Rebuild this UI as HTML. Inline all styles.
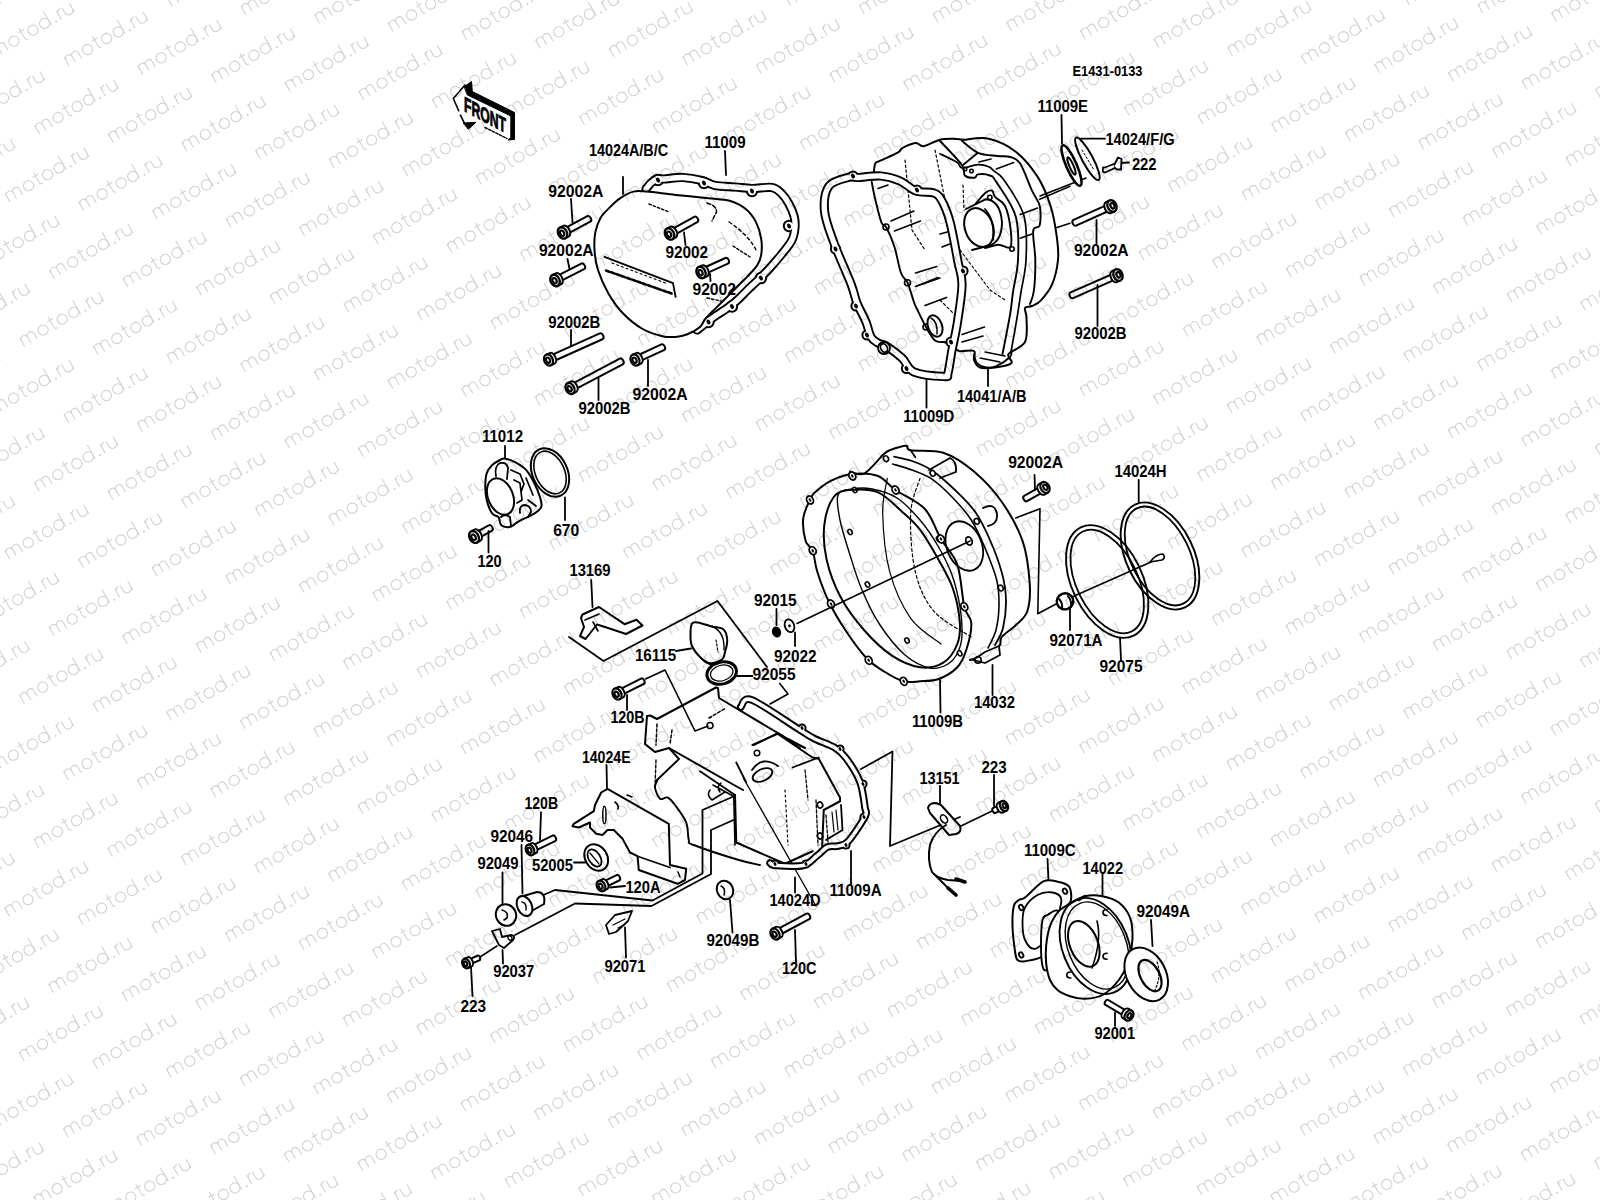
<!DOCTYPE html>
<html><head><meta charset="utf-8"><style>
html,body{margin:0;padding:0;background:#fff;width:1600px;height:1200px;overflow:hidden}
svg{display:block}
</style></head><body>
<svg width="1600" height="1200" viewBox="0 0 1600 1200">
<defs><g id="w"><g transform="rotate(-30)">
<path d="M0,0V-10.2M0,-6.5C0,-8.7 1.6,-10.2 3.65,-10.2C5.7,-10.2 7.3,-8.7 7.3,-6.5V0M7.3,-6.5C7.3,-8.7 8.9,-10.2 10.95,-10.2C13,-10.2 14.6,-8.7 14.6,-6.5V0M35,-14V-2.2Q35,0 37.5,0M32,-10.2H38.5M64.6,-16V0M76,0V-10.2M76,-6C76,-8.5 78,-10.2 80.5,-10.2M82.5,-10.2V-4C82.5,-1.5 84.4,0 86.75,0C89.1,0 91,-1.5 91,-4M91,-10.2V0"/>
<circle cx="24.2" cy="-5.1" r="5.1"/><circle cx="46.2" cy="-5.1" r="5.1"/><circle cx="59.5" cy="-5.1" r="5.1"/>
<circle cx="70.5" cy="-0.7" r="0.5"/>
</g></g></defs>
<g fill="none" stroke="#000" stroke-width="2" stroke-linecap="round" stroke-linejoin="round">
<g>
<path d="M465,85L453.3,98.5L458.7,110.7M460.4,115.2L464.4,123.2" stroke-width="1.6"/>
<path d="M464.5,86.5L471.5,81.5L472.3,91.5L514.5,112.5L514.5,139.5L508,140L510.8,137.5L510.8,116L467.5,95Z" fill="#000" stroke-width="1"/>
<path d="M485,127.5L507,138.5" stroke-width="1.4" stroke-dasharray="2.5,1.5"/>
<path d="M463.5,123L476,122.3L468.5,129Z" fill="#000" stroke-width="1"/>
<text transform="translate(464,111) skewY(28)" font-family="Liberation Sans, sans-serif" font-weight="bold" font-size="21" fill="#000" stroke="#000" stroke-width="0.9" textLength="42" lengthAdjust="spacingAndGlyphs">FRONT</text>
</g>
<path d="M646,189C646.8,188 649.2,184.7 651,183C652.8,181.3 654.8,179.7 657,179C659.2,178.3 659.7,179.2 664,179C668.3,178.8 676.7,177.2 683,177.5C689.3,177.8 696.7,179.2 702,180.5C707.3,181.8 709.5,184.4 715,185.5C720.5,186.6 728.8,186.5 735,187C741.2,187.5 745.8,188.4 752,188.5C758.2,188.6 767,186.6 772,187.5C777,188.4 779.2,191.2 782,194C784.8,196.8 787,200.3 789,204C791,207.7 793,212.2 794,216C795,219.8 795.3,223 795,227C794.7,231 794.3,235.3 792,240C789.7,244.7 785,250 781,255C777,260 772,265.7 768,270C764,274.3 760.4,277.7 757,281C753.6,284.3 750.8,286.8 747.5,290C744.2,293.2 741.1,296.8 737.5,300C733.9,303.2 729.6,306.4 726,309C722.4,311.6 719,313.4 716,315.5C713,317.6 711.2,319.1 708,321.5C704.8,323.9 698.8,328.6 697,330" stroke-width="9.2"/>
<circle cx="658" cy="180" r="6.2" fill="#000" stroke="none"/>
<circle cx="704" cy="183" r="6.2" fill="#000" stroke="none"/>
<circle cx="752" cy="191" r="6.2" fill="#000" stroke="none"/>
<circle cx="789" cy="226" r="6.2" fill="#000" stroke="none"/>
<circle cx="761" cy="278" r="6.2" fill="#000" stroke="none"/>
<circle cx="732" cy="306.5" r="6.2" fill="#000" stroke="none"/>
<circle cx="708.5" cy="322" r="6.2" fill="#000" stroke="none"/>
<path d="M646,189C646.8,188 649.2,184.7 651,183C652.8,181.3 654.8,179.7 657,179C659.2,178.3 659.7,179.2 664,179C668.3,178.8 676.7,177.2 683,177.5C689.3,177.8 696.7,179.2 702,180.5C707.3,181.8 709.5,184.4 715,185.5C720.5,186.6 728.8,186.5 735,187C741.2,187.5 745.8,188.4 752,188.5C758.2,188.6 767,186.6 772,187.5C777,188.4 779.2,191.2 782,194C784.8,196.8 787,200.3 789,204C791,207.7 793,212.2 794,216C795,219.8 795.3,223 795,227C794.7,231 794.3,235.3 792,240C789.7,244.7 785,250 781,255C777,260 772,265.7 768,270C764,274.3 760.4,277.7 757,281C753.6,284.3 750.8,286.8 747.5,290C744.2,293.2 741.1,296.8 737.5,300C733.9,303.2 729.6,306.4 726,309C722.4,311.6 719,313.4 716,315.5C713,317.6 711.2,319.1 708,321.5C704.8,323.9 698.8,328.6 697,330" stroke="#fff" stroke-width="5.4"/>
<circle cx="658" cy="180" r="4.2" fill="#fff" stroke="none"/>
<ellipse cx="658" cy="180" rx="1.8" ry="2.6" transform="rotate(-30 658 180)" fill="#000" stroke="none"/>
<circle cx="704" cy="183" r="4.2" fill="#fff" stroke="none"/>
<ellipse cx="704" cy="183" rx="1.8" ry="2.6" transform="rotate(-30 704 183)" fill="#000" stroke="none"/>
<circle cx="752" cy="191" r="4.2" fill="#fff" stroke="none"/>
<ellipse cx="752" cy="191" rx="1.8" ry="2.6" transform="rotate(-30 752 191)" fill="#000" stroke="none"/>
<circle cx="789" cy="226" r="4.2" fill="#fff" stroke="none"/>
<ellipse cx="789" cy="226" rx="1.8" ry="2.6" transform="rotate(-30 789 226)" fill="#000" stroke="none"/>
<circle cx="761" cy="278" r="4.2" fill="#fff" stroke="none"/>
<ellipse cx="761" cy="278" rx="1.8" ry="2.6" transform="rotate(-30 761 278)" fill="#000" stroke="none"/>
<circle cx="732" cy="306.5" r="4.2" fill="#fff" stroke="none"/>
<ellipse cx="732" cy="306.5" rx="1.8" ry="2.6" transform="rotate(-30 732 306.5)" fill="#000" stroke="none"/>
<circle cx="708.5" cy="322" r="4.2" fill="#fff" stroke="none"/>
<ellipse cx="708.5" cy="322" rx="1.8" ry="2.6" transform="rotate(-30 708.5 322)" fill="#000" stroke="none"/>
<path d="M620.3,198.2C624.2,195.6 629,192.7 633.4,191.6C637.8,190.5 639.6,191 646.6,191.6C653.6,192.2 665.3,193.8 675.6,194.9C685.9,196 699.5,197.2 708.5,198.2C717.5,199.2 723.5,199.1 729.6,200.8C735.8,202.6 741,205.2 745.4,208.7C749.8,212.2 753.3,216.8 755.9,221.9C758.5,227 760.3,233.5 761.2,239C762.1,244.5 761.9,250.4 761.2,254.8C760.5,259.2 759.4,261.8 757.2,265.3C755,268.8 750.9,272.8 748,275.9C745.1,279 744.4,279.4 740.1,283.8C735.8,288.2 727.7,296.3 722,302C716.3,307.7 709.7,313.8 706,318C702.3,322.2 703.1,324.3 700,327C696.9,329.7 691.5,332.7 687.4,334.3C683.3,335.9 679.8,336.6 675.6,336.9C671.4,337.2 667.9,337.5 662.4,336.2C656.9,334.9 649.3,332.8 642.7,329C636.1,325.2 628.6,319.1 622.9,313.2C617.2,307.3 612.6,300.6 608.4,293.4C604.2,286.1 600.2,276.9 597.9,269.7C595.6,262.5 594.9,256.2 594.5,250C594.1,243.8 594.3,237.8 595.3,232.4C596.3,227.1 598.1,222.1 600.5,217.9C602.9,213.7 606.5,210.7 609.8,207.4C613.1,204.1 616.4,200.8 620.3,198.2Z" fill="#fff" stroke-width="2"/>
<path d="M604.5,256.8L673,283.1L675.6,296.9" stroke-width="1.8"/>
<path d="M606,270.5L673,294" stroke-width="2.6" stroke-dasharray="3.5,2"/>
<path d="M612,263L668,284" stroke-width="1.2" stroke-dasharray="2,3"/>
<path d="M649,204L669,212" stroke-width="1.4" stroke-dasharray="2.5,2"/>
<path d="M707,203Q717,206 716.5,212L712,221" stroke-width="1.5" stroke-dasharray="4,2"/>
<path d="M729,222Q750,236 757,252" stroke-width="1.4" stroke-dasharray="3,3"/>
<path d="M733,246L750,257" stroke-width="1.4" stroke-dasharray="2.5,2"/>
<path d="M707,298L721,301" stroke-width="1.4" stroke-dasharray="2.5,2"/>
<path d="M623,177L623,194" stroke-width="1.8"/>
<g transform="translate(562.5,233) rotate(-28.1)" stroke-width="2.0"><path d="M4,-3.1H29.8A2.2,3.1 0 0 1 29.8,3.1H4" fill="#fff"/><path d="M0,-6H4A3.6,6 0 0 1 4,6H0" fill="#fff"/><ellipse cx="0" cy="0" rx="4.4" ry="6" fill="#fff" stroke-width="2.3"/><ellipse cx="-0.5" cy="0" rx="1.9" ry="2.9" stroke-width="2.2"/></g>
<g transform="translate(555,280.5) rotate(-26.9)" stroke-width="2.0"><path d="M4,-3.1H31.1A2.2,3.1 0 0 1 31.1,3.1H4" fill="#fff"/><path d="M0,-6H4A3.6,6 0 0 1 4,6H0" fill="#fff"/><ellipse cx="0" cy="0" rx="4.4" ry="6" fill="#fff" stroke-width="2.3"/><ellipse cx="-0.5" cy="0" rx="1.9" ry="2.9" stroke-width="2.2"/></g>
<g transform="translate(669.5,234) rotate(-28.9)" stroke-width="2.0"><path d="M4,-3.1H30A2.2,3.1 0 0 1 30,3.1H4" fill="#fff"/><path d="M0,-6H4A3.6,6 0 0 1 4,6H0" fill="#fff"/><ellipse cx="0" cy="0" rx="4.4" ry="6" fill="#fff" stroke-width="2.3"/><ellipse cx="-0.5" cy="0" rx="1.9" ry="2.9" stroke-width="2.2"/></g>
<g transform="translate(701,272.5) rotate(-24.5)" stroke-width="2.0"><path d="M4,-3.1H28.2A2.2,3.1 0 0 1 28.2,3.1H4" fill="#fff"/><path d="M0,-6H4A3.6,6 0 0 1 4,6H0" fill="#fff"/><ellipse cx="0" cy="0" rx="4.4" ry="6" fill="#fff" stroke-width="2.3"/><ellipse cx="-0.5" cy="0" rx="1.9" ry="2.9" stroke-width="2.2"/></g>
<g transform="translate(548.5,360) rotate(-24.2)" stroke-width="2.0"><path d="M4,-3.2H57.7A2.2,3.2 0 0 1 57.7,3.2H4" fill="#fff"/><path d="M0,-5.8H4A3.5,5.8 0 0 1 4,5.8H0" fill="#fff"/><ellipse cx="0" cy="0" rx="4.2" ry="5.8" fill="#fff" stroke-width="2.3"/><ellipse cx="-0.5" cy="0" rx="1.9" ry="2.8" stroke-width="2.2"/></g>
<g transform="translate(570,388.5) rotate(-27.8)" stroke-width="2.0"><path d="M4,-3.2H57.9A2.2,3.2 0 0 1 57.9,3.2H4" fill="#fff"/><path d="M0,-5.8H4A3.5,5.8 0 0 1 4,5.8H0" fill="#fff"/><ellipse cx="0" cy="0" rx="4.2" ry="5.8" fill="#fff" stroke-width="2.3"/><ellipse cx="-0.5" cy="0" rx="1.9" ry="2.8" stroke-width="2.2"/></g>
<g transform="translate(635,360) rotate(-24.7)" stroke-width="2.0"><path d="M4,-3.1H30.5A2.2,3.1 0 0 1 30.5,3.1H4" fill="#fff"/><path d="M0,-5.8H4A3.5,5.8 0 0 1 4,5.8H0" fill="#fff"/><ellipse cx="0" cy="0" rx="4.2" ry="5.8" fill="#fff" stroke-width="2.3"/><ellipse cx="-0.5" cy="0" rx="1.9" ry="2.8" stroke-width="2.2"/></g>
<g transform="translate(1112,206) rotate(155.8)" stroke-width="2.0"><path d="M4,-3.1H40.8A2.2,3.1 0 0 1 40.8,3.1H4" fill="#fff"/><path d="M0,-6H4A3.6,6 0 0 1 4,6H0" fill="#fff"/><ellipse cx="0" cy="0" rx="4.4" ry="6" fill="#fff" stroke-width="2.3"/><ellipse cx="-0.5" cy="0" rx="1.9" ry="2.9" stroke-width="2.2"/></g>
<g transform="translate(1118,275) rotate(156.3)" stroke-width="2.0"><path d="M4,-3.1H50.4A2.2,3.1 0 0 1 50.4,3.1H4" fill="#fff"/><path d="M0,-6H4A3.6,6 0 0 1 4,6H0" fill="#fff"/><ellipse cx="0" cy="0" rx="4.4" ry="6" fill="#fff" stroke-width="2.3"/><ellipse cx="-0.5" cy="0" rx="1.9" ry="2.9" stroke-width="2.2"/></g>
<g transform="translate(1045,487.5) rotate(150.4)" stroke-width="2.0"><path d="M4,-3H22.3A2.1,3 0 0 1 22.3,3H4" fill="#fff"/><path d="M0,-5.8H4A3.5,5.8 0 0 1 4,5.8H0" fill="#fff"/><ellipse cx="0" cy="0" rx="4.2" ry="5.8" fill="#fff" stroke-width="2.3"/><ellipse cx="-0.5" cy="0" rx="1.9" ry="2.8" stroke-width="2.2"/></g>
<g transform="translate(617,694) rotate(-26.6)" stroke-width="2.0"><path d="M4,-3H28.3A2.1,3 0 0 1 28.3,3H4" fill="#fff"/><path d="M0,-5.8H4A3.5,5.8 0 0 1 4,5.8H0" fill="#fff"/><ellipse cx="0" cy="0" rx="4.2" ry="5.8" fill="#fff" stroke-width="2.3"/><ellipse cx="-0.5" cy="0" rx="1.9" ry="2.8" stroke-width="2.2"/></g>
<g transform="translate(530,850) rotate(-26.1)" stroke-width="2.0"><path d="M4,-3H26.5A2.1,3 0 0 1 26.5,3H4" fill="#fff"/><path d="M0,-5.5H4A3.3,5.5 0 0 1 4,5.5H0" fill="#fff"/><ellipse cx="0" cy="0" rx="4" ry="5.5" fill="#fff" stroke-width="2.3"/><ellipse cx="-0.5" cy="0" rx="1.8" ry="2.7" stroke-width="2.2"/></g>
<g transform="translate(601,886) rotate(-26.0)" stroke-width="2.0"><path d="M4,-3H18.7A2.1,3 0 0 1 18.7,3H4" fill="#fff"/><path d="M0,-5.5H4A3.3,5.5 0 0 1 4,5.5H0" fill="#fff"/><ellipse cx="0" cy="0" rx="4" ry="5.5" fill="#fff" stroke-width="2.3"/><ellipse cx="-0.5" cy="0" rx="1.8" ry="2.7" stroke-width="2.2"/></g>
<g transform="translate(775,934) rotate(-28.2)" stroke-width="2.0"><path d="M4,-3H37.3A2.1,3 0 0 1 37.3,3H4" fill="#fff"/><path d="M0,-5.8H4A3.5,5.8 0 0 1 4,5.8H0" fill="#fff"/><ellipse cx="0" cy="0" rx="4.2" ry="5.8" fill="#fff" stroke-width="2.3"/><ellipse cx="-0.5" cy="0" rx="1.9" ry="2.8" stroke-width="2.2"/></g>
<g transform="translate(466,963.5) rotate(-24.1)" stroke-width="2.0"><path d="M4,-2.5H13.4A1.8,2.5 0 0 1 13.4,2.5H4" fill="#fff"/><path d="M0,-5H4A3,5 0 0 1 4,5H0" fill="#fff"/><ellipse cx="0" cy="0" rx="3.6" ry="5" fill="#fff" stroke-width="2.3"/><ellipse cx="-0.5" cy="0" rx="1.6" ry="2.4" stroke-width="2.2"/></g>
<g transform="translate(1004,806) rotate(155.4)" stroke-width="2.0"><path d="M4,-2.8H10.5A1.9,2.8 0 0 1 10.5,2.8H4" fill="#fff"/><path d="M0,-5.3H4A3.2,5.3 0 0 1 4,5.3H0" fill="#fff"/><ellipse cx="0" cy="0" rx="3.8" ry="5.3" fill="#fff" stroke-width="2.3"/><ellipse cx="-0.5" cy="0" rx="1.7" ry="2.5" stroke-width="2.2"/></g>
<g transform="translate(1129,1015.5) rotate(-149.4)" stroke-width="2.0"><path d="M4,-2.8H25.7A1.9,2.8 0 0 1 25.7,2.8H4" fill="#fff"/><path d="M0,-5.5H4A3.3,5.5 0 0 1 4,5.5H0" fill="#fff"/><ellipse cx="0" cy="0" rx="4" ry="5.5" fill="#fff" stroke-width="2.3"/><ellipse cx="-0.5" cy="0" rx="1.8" ry="2.7" stroke-width="2.2"/></g>
<g transform="translate(474,537) rotate(-28.9)" stroke-width="2.0"><path d="M4,-3.2H18.5A2.3,3.2 0 0 1 18.5,3.2H4" fill="#fff"/><path d="M0,-6.3H4A3.8,6.3 0 0 1 4,6.3H0" fill="#fff"/><ellipse cx="0" cy="0" rx="4.5" ry="6.3" fill="#fff" stroke-width="2.3"/><ellipse cx="-0.5" cy="0" rx="2" ry="3" stroke-width="2.2"/></g>
<path d="M725,151L726,175" stroke-width="1.8"/>
<path d="M571,199L572.5,222" stroke-width="1.8"/>
<path d="M567.5,259L569.5,269" stroke-width="1.8"/>
<path d="M684,232.5L685.5,245" stroke-width="1.8"/>
<path d="M710,274L710.5,281" stroke-width="1.8"/>
<path d="M571,330L571,346" stroke-width="1.8"/>
<path d="M598.5,378L598.5,400" stroke-width="1.8"/>
<path d="M648,360L648,386" stroke-width="1.8"/>
<path d="M1061.5,115L1062,143.5" stroke-width="1.8"/>
<path d="M1081,138.7L1105,138.7" stroke-width="1.8"/>
<path d="M1120,163L1129,162.5" stroke-width="1.8"/>
<path d="M1096.5,220L1096.5,245" stroke-width="1.8"/>
<path d="M1097.5,285L1097.5,326" stroke-width="1.8"/>
<path d="M926.5,376L926.5,407.5" stroke-width="1.8"/>
<path d="M988,367.5L988,386" stroke-width="1.8"/>
<path d="M505,446L505,460" stroke-width="1.8"/>
<path d="M565,497.5L565,520" stroke-width="1.8"/>
<path d="M488.5,531L488.5,552.5" stroke-width="1.8"/>
<path d="M591.2,580L592.5,607" stroke-width="1.8"/>
<path d="M1034.5,475L1035,490" stroke-width="1.8"/>
<path d="M1138.7,480L1138.7,502.5" stroke-width="1.8"/>
<path d="M776.5,609L776.5,625" stroke-width="1.8"/>
<path d="M795,632.5L795,646" stroke-width="1.8"/>
<path d="M676,651L691,648.5" stroke-width="1.8"/>
<path d="M736,676L752.5,676" stroke-width="1.8"/>
<path d="M627,695L627,710" stroke-width="1.8"/>
<path d="M606.5,765L607,788.5" stroke-width="1.8"/>
<path d="M541,812.5L540,840" stroke-width="1.8"/>
<path d="M521.5,845L522.5,893.5" stroke-width="1.8"/>
<path d="M502.5,872.5L502.5,905" stroke-width="1.8"/>
<path d="M574,862.5L585,862.5" stroke-width="1.8"/>
<path d="M610,887.5L625,886" stroke-width="1.8"/>
<path d="M795,877.5L795,892.5" stroke-width="1.8"/>
<path d="M502.5,950L503,963.5" stroke-width="1.8"/>
<path d="M625,927.5L626,957.5" stroke-width="1.8"/>
<path d="M730,900L732.5,932.5" stroke-width="1.8"/>
<path d="M795,930L796,962.5" stroke-width="1.8"/>
<path d="M471,967L472.5,996" stroke-width="1.8"/>
<path d="M1070,607.5L1070,630" stroke-width="1.8"/>
<path d="M1120,637.5L1121,660" stroke-width="1.8"/>
<path d="M992.5,665L992.5,695" stroke-width="1.8"/>
<path d="M940,680L940.5,712.5" stroke-width="1.8"/>
<path d="M994,775L994,806" stroke-width="1.8"/>
<path d="M940,786L940,803.5" stroke-width="1.8"/>
<path d="M1047.5,859L1048.5,881" stroke-width="1.8"/>
<path d="M851,851L851,885" stroke-width="1.8"/>
<path d="M1102.5,874L1102.5,896" stroke-width="1.8"/>
<path d="M1151,920L1152.5,946" stroke-width="1.8"/>
<path d="M1115,1012.5L1115,1026" stroke-width="1.8"/>
<path d="M963.8,139.8C968,139.6 980.1,136.7 988.8,138.7C997.5,140.7 1007.7,145.4 1015.8,151.7C1023.9,158 1031.7,167.6 1037.5,176.6C1043.3,185.6 1047.2,195.5 1050.5,205.8C1053.8,216.1 1055.8,229.3 1057,238.3C1058.2,247.3 1058.8,252.3 1058,260C1057.2,267.7 1055,277.6 1052.1,284.4C1049.2,291.2 1044,297 1040.7,300.6C1037.4,304.2 1034.6,304.8 1032,306C1029.4,307.2 1025.9,306 1025,308C1024.1,310 1026.5,312.3 1026.5,318C1026.5,323.7 1028,336 1025,342C1022,348 1010.8,350.5 1008.5,354C1006.2,357.5 1013.8,360.8 1011.5,363C1009.2,365.2 1000.2,366.8 995,367.5C989.8,368.2 983.5,368.8 980,367.5C976.5,366.2 975,362.8 974,360C973,357.2 976.5,352.5 974,351C971.5,349.5 962.7,352 959,351C955.3,350 954.5,346.5 952,345C949.5,343.5 945.3,342.5 944,342" stroke-width="2"/>
<path d="M873.4,180C873.7,177.3 873.9,167.3 875,164.1C876.1,160.9 876.1,162.8 879.9,160.9C883.7,159 893.9,154.9 897.7,152.7C901.5,150.5 899.6,149.5 902.6,147.9C905.6,146.3 912.1,143.3 915.6,143C919.1,142.7 919.6,146.8 923.7,146.2C927.8,145.6 934.6,140.9 940,139.7C945.4,138.5 952.2,138.9 956.2,138.9C960.2,138.9 962.5,139.6 963.8,139.8" stroke-width="2"/>
<path d="M961.7,140.8C964.4,142.8 972,150.2 977.9,152.8C983.8,155.3 992,155.3 997.4,156C1002.8,156.7 1006.6,155.7 1010.4,157C1014.2,158.3 1016.6,158 1020.2,163.6C1023.8,169.2 1028.8,183.7 1032,190.7C1035.2,197.7 1038.4,200 1039.7,205.8C1041,211.6 1040.8,221.1 1039.7,225.3C1038.6,229.5 1033.9,225 1033.2,230.8C1032.5,236.6 1035.2,250.1 1035.3,260C1035.4,269.9 1034.9,282.7 1034,290C1033.1,297.3 1030.7,301.7 1030,304" stroke-width="1.9"/>
<path d="M977.9,152.75L963,165" stroke-width="1.8"/>
<path d="M940,141C943.6,144.9 957.6,158.9 961.7,164.7C965.9,170.4 962.7,173.3 964.9,175.5C967.1,177.7 972.5,177.9 974.7,177.7C976.9,177.5 975.4,174.8 977.9,174.4C980.4,174 986.7,174.2 989.8,175.5C992.9,176.8 992,175.1 996.3,182C1000.6,188.9 1012.2,203.7 1015.8,216.7C1019.4,229.7 1018.5,247.4 1018,260C1017.5,272.6 1014.3,282.8 1013,292C1011.7,301.2 1011.8,304.7 1010,315C1008.2,325.3 1003.8,347.5 1002.5,354" stroke-width="1.9"/>
<path d="M940,153.8C942.9,155.2 953.6,160.1 957.3,162.5C961,164.9 958.6,167.6 962,168C965.4,168.4 973.4,164.9 977.9,164.7C982.4,164.5 986.1,165.7 988.8,166.8C991.5,167.9 991.7,169 994.2,171.2C996.7,173.4 999,172.5 1004,180C1009,187.5 1020.3,202.7 1024,216C1027.7,229.3 1026.5,247.3 1026,260C1025.5,272.7 1022.5,282.3 1021,292C1019.5,301.7 1018.7,308 1017,318C1015.3,328 1012,346.3 1011,352" stroke-width="1.7"/>
<circle cx="965" cy="169" r="1.8" stroke-width="1.5"/><circle cx="971.5" cy="171" r="1.8" stroke-width="1.5"/>
<path d="M871.7,182C872.2,184.7 873.4,191.4 875,198.2C876.6,205 879.6,217.7 881.5,222.6C883.4,227.5 884.2,223.4 886.4,227.5C888.6,231.6 892.1,239.4 894.5,247C896.9,254.6 898.8,267.1 901,273C903.2,278.9 905.3,277.8 907.5,282.7C909.7,287.6 912.4,297.8 914,302.2C915.6,306.6 915,304.9 917,309C919,313.1 923,321.8 926,327C929,332.2 932,338 935,340.5C938,343 942.5,341.8 944,342" stroke-width="1.9"/>
<circle cx="886" cy="227" r="3" stroke-width="1.6"/>
<circle cx="907.5" cy="282.7" r="3" stroke-width="1.6"/>
<circle cx="926" cy="327" r="3" stroke-width="1.6"/>
<path d="M891,221L914,211M894.5,231L920.5,221M915.5,273L936.7,266.5M917,286L940,278M925,305.5L946.5,297.4M878,188.5L888,185M962,334.5L984.5,327M962,342L983,336M915.5,286.5L938,277.5M979,162L991,159M996.3,169L1013.7,162.5M1020.2,214.5L1037.5,208M1020.2,238.3L1032,234M1039.7,199.3L1070,186.3M1057,227.5L1070,223.2M940,234L951,231M942,247L955,242" stroke-width="1.6"/>
<path d="M905,160L912,230L925,250M935,150L945,200L950,230M960,250L990,290L1005,300M940,300L960,320M963,185L964,210" stroke-width="1.2" stroke-dasharray="2.5,2.5"/>
<ellipse cx="935" cy="326" rx="7" ry="11" transform="rotate(-20 935 326)" fill="#fff" stroke-width="2"/>
<path d="M931,318Q938,322 937,334" stroke-width="1.5"/>
<path d="M975.7,203.7C977.3,201.9 982.8,195 985.5,192.8C988.2,190.6 990.4,190 992,190.7C993.6,191.4 993.1,194.7 995.3,197.2C997.5,199.7 1002.5,200.8 1005,205.8C1007.5,210.9 1009.5,220.6 1010.4,227.5C1011.3,234.4 1012.4,244.1 1010.4,247C1008.4,249.9 1002.7,244.6 998.5,244.8C994.3,245 987.2,247.5 985,248" stroke-width="1.9"/>
<circle cx="989.8" cy="197.5" r="2.2" stroke-width="1.6"/><circle cx="1012" cy="249" r="2.2" stroke-width="1.6"/>
<path d="M966,209L985.5,199.3Q1000,200 1002,222Q1002,240 991,245L972,250" fill="#fff" stroke-width="1.9"/>
<ellipse cx="979" cy="227.5" rx="14" ry="20" transform="rotate(-20 979 227.5)" fill="#fff" stroke-width="2"/>
<path d="M985,209Q995,220 993,240" stroke-width="1.8"/>
<path d="M974,354C974.5,355.5 975,360.8 977,363C979,365.2 982.8,367 986,367.5C989.2,368 992.5,367.8 996.5,366C1000.5,364.2 1007.5,359.5 1010,357C1012.5,354.5 1011.2,352 1011.5,351" stroke-width="1.8"/>
<path d="M980,358L1000,362M985,352L1005,356" stroke-width="1.3"/>
<path d="M829,186C833.2,180.3 845.2,178.4 850,177C854.8,175.6 852.8,177.7 858,177.5C863.2,177.3 874,175.4 881,176C888,176.6 894.2,178.5 900,181C905.8,183.5 910.3,189 916,191C921.7,193 929.7,191.3 934,193C938.3,194.7 939.3,196.2 942,201C944.7,205.8 947.3,211.8 950,222C952.7,232.2 956,251.5 958,262C960,272.5 962.2,274.5 962,285C961.8,295.5 958.7,314.2 957,325C955.3,335.8 953.5,342 952,350C950.5,358 949.3,368.6 948,373C946.7,377.4 949.7,376.7 944,376.5C938.3,376.3 921,375.1 914,372C907,368.9 906.7,362.3 902,358C897.3,353.7 890,348.5 886,346C882,343.5 880.5,344.5 878,343C875.5,341.5 873,340.5 871,337C869,333.5 868.3,327.7 866,322C863.7,316.3 859.5,309.3 857,303C854.5,296.7 854.8,294 851,284C847.2,274 838.4,255.2 834,243C829.6,230.8 825.3,220.5 824.5,211C823.7,201.5 824.8,191.7 829,186Z" stroke-width="9.2"/>
<circle cx="853" cy="176" r="5.6" fill="#000" stroke="none"/>
<circle cx="917" cy="190" r="5.6" fill="#000" stroke="none"/>
<circle cx="963" cy="271" r="5.6" fill="#000" stroke="none"/>
<circle cx="835.5" cy="249" r="5.6" fill="#000" stroke="none"/>
<circle cx="856" cy="306" r="5.6" fill="#000" stroke="none"/>
<circle cx="867" cy="335" r="5.6" fill="#000" stroke="none"/>
<circle cx="906.5" cy="368.5" r="5.6" fill="#000" stroke="none"/>
<circle cx="951" cy="342" r="5.6" fill="#000" stroke="none"/>
<path d="M829,186C833.2,180.3 845.2,178.4 850,177C854.8,175.6 852.8,177.7 858,177.5C863.2,177.3 874,175.4 881,176C888,176.6 894.2,178.5 900,181C905.8,183.5 910.3,189 916,191C921.7,193 929.7,191.3 934,193C938.3,194.7 939.3,196.2 942,201C944.7,205.8 947.3,211.8 950,222C952.7,232.2 956,251.5 958,262C960,272.5 962.2,274.5 962,285C961.8,295.5 958.7,314.2 957,325C955.3,335.8 953.5,342 952,350C950.5,358 949.3,368.6 948,373C946.7,377.4 949.7,376.7 944,376.5C938.3,376.3 921,375.1 914,372C907,368.9 906.7,362.3 902,358C897.3,353.7 890,348.5 886,346C882,343.5 880.5,344.5 878,343C875.5,341.5 873,340.5 871,337C869,333.5 868.3,327.7 866,322C863.7,316.3 859.5,309.3 857,303C854.5,296.7 854.8,294 851,284C847.2,274 838.4,255.2 834,243C829.6,230.8 825.3,220.5 824.5,211C823.7,201.5 824.8,191.7 829,186Z" stroke="#fff" stroke-width="5.4"/>
<circle cx="853" cy="176" r="3.5999999999999996" fill="#fff" stroke="none"/>
<ellipse cx="853" cy="176" rx="1.8" ry="2.6" transform="rotate(-30 853 176)" fill="#000" stroke="none"/>
<circle cx="917" cy="190" r="3.5999999999999996" fill="#fff" stroke="none"/>
<ellipse cx="917" cy="190" rx="1.8" ry="2.6" transform="rotate(-30 917 190)" fill="#000" stroke="none"/>
<circle cx="963" cy="271" r="3.5999999999999996" fill="#fff" stroke="none"/>
<ellipse cx="963" cy="271" rx="1.8" ry="2.6" transform="rotate(-30 963 271)" fill="#000" stroke="none"/>
<circle cx="835.5" cy="249" r="3.5999999999999996" fill="#fff" stroke="none"/>
<ellipse cx="835.5" cy="249" rx="1.8" ry="2.6" transform="rotate(-30 835.5 249)" fill="#000" stroke="none"/>
<circle cx="856" cy="306" r="3.5999999999999996" fill="#fff" stroke="none"/>
<ellipse cx="856" cy="306" rx="1.8" ry="2.6" transform="rotate(-30 856 306)" fill="#000" stroke="none"/>
<circle cx="867" cy="335" r="3.5999999999999996" fill="#fff" stroke="none"/>
<ellipse cx="867" cy="335" rx="1.8" ry="2.6" transform="rotate(-30 867 335)" fill="#000" stroke="none"/>
<circle cx="906.5" cy="368.5" r="3.5999999999999996" fill="#fff" stroke="none"/>
<ellipse cx="906.5" cy="368.5" rx="1.8" ry="2.6" transform="rotate(-30 906.5 368.5)" fill="#000" stroke="none"/>
<circle cx="951" cy="342" r="3.5999999999999996" fill="#fff" stroke="none"/>
<ellipse cx="951" cy="342" rx="1.8" ry="2.6" transform="rotate(-30 951 342)" fill="#000" stroke="none"/>
<circle cx="884" cy="348" r="6" fill="#fff" stroke-width="1.8"/>
<ellipse cx="884" cy="348" rx="3.2" ry="4.5" transform="rotate(-30 884 348)" stroke-width="1.8"/>
<path d="M1040,196L1086,178" stroke-width="1.6"/>
<ellipse cx="1071.5" cy="165.5" rx="22" ry="5.2" transform="rotate(66.4 1071.5 165.5)" fill="#fff" stroke-width="2.6"/>
<ellipse cx="1071.5" cy="166" rx="9.5" ry="2" transform="rotate(66.4 1071.5 166)" stroke-width="2"/>
<ellipse cx="1087.4" cy="158.8" rx="24" ry="5.3" transform="rotate(61.8 1087.4 158.8)" fill="#fff" stroke-width="2"/>
<path d="M1082,150L1094,170" stroke-width="1" stroke-dasharray="2,2"/>
<path d="M1103,168Q1102,172.5 1105,172.5L1115,168L1115,163.5L1105,167.5Q1103,167 1103,168Z" fill="#fff" stroke-width="1.8"/>
<path d="M1114.5,164.5L1118,157.5L1121.5,159L1121,169.5L1117,169.5L1115,168" fill="#fff" stroke-width="1.8"/>
<path d="M882.7,455C883.9,454.2 885.8,451.9 889.7,450.3C893.6,448.8 902.5,445.7 906,445.7C909.5,445.7 904.5,449.1 910.7,450.3C916.9,451.5 932.8,449.2 943.3,452.7C953.8,456.2 964,463.1 973.7,471.3C983.4,479.5 993.5,490 1001.7,501.7C1009.9,513.4 1018,527.7 1022.7,541.3C1027.4,554.9 1028.9,571.6 1029.7,583.3C1030.5,595 1029.6,604.3 1027.3,611.3C1025,618.3 1020,621 1015.7,625.3C1011.4,629.6 1004.4,633.5 1001.7,637C999,640.5 1002.1,643 999.3,646C996.5,649 989.9,652.7 985,655C980.1,657.3 972.5,659.2 970,660" stroke-width="2"/>
<path d="M850,471.3C852.3,471.7 858.5,476.4 864,473.7C869.5,471 879.6,458.1 882.7,455" stroke-width="1.8"/>
<path d="M910.7,450.3L915.3,457.3" stroke-width="1.8"/>
<path d="M929,470L950,458Q957,461 956,472L940,478" fill="#fff" stroke-width="1.8"/>
<path d="M983,508Q995,502 997,514Q998,524 988,526" stroke-width="1.8"/>
<path d="M887.3,478.3C886.5,484.1 882.3,497.7 882.7,513.3C883.1,528.9 885,554.2 889.7,571.7C894.4,589.2 902.2,606.2 910.7,618.3C919.2,630.3 936,639.7 941,644" stroke-width="1.2"/>
<path d="M920,478.3C918.5,484.1 911.5,497.7 910.7,513.3C909.9,528.9 911.4,555.4 915.3,571.7C919.2,588 924.7,600.4 934,611.3C943.3,622.2 965.1,632.7 971.3,637" stroke-width="1.2" stroke-dasharray="3,2.5"/>
<path d="M894,456.7C897,457.4 905.8,458.8 912,461C918.2,463.2 924.1,465.2 931.3,470C938.5,474.8 947.7,483 955,490C962.3,497 969.5,503.7 975.3,512C981.1,520.3 985.5,529.8 990,540C994.5,550.2 999.3,563.3 1002,573.3C1004.7,583.3 1005.8,590.9 1006,600C1006.2,609.1 1004.8,620.5 1003,628C1001.2,635.5 996.3,642.2 995,645" stroke-width="1.8"/>
<path d="M892.7,464C895.9,465 905.6,467.6 912,470C918.4,472.4 924.6,474.2 931.3,478.7C938,483.2 945.3,490.1 952,497C958.7,503.9 965.8,511.5 971.3,520C976.8,528.5 980.8,538 985,548C989.2,558 994.4,570.5 996.7,580C999,589.5 999.1,596.7 999,605C998.9,613.3 997.8,622.8 996,630C994.2,637.2 989.3,645 988,648" stroke-width="1.6"/>
<ellipse cx="886" cy="458.7" rx="2.4" ry="3" transform="rotate(-30 886 458.7)" fill="#fff" stroke-width="1.6"/>
<ellipse cx="932.7" cy="473.3" rx="2.4" ry="3" transform="rotate(-30 932.7 473.3)" fill="#fff" stroke-width="1.6"/>
<ellipse cx="976.7" cy="521.3" rx="2.4" ry="3" transform="rotate(-30 976.7 521.3)" fill="#fff" stroke-width="1.6"/>
<ellipse cx="1000.7" cy="588" rx="2.4" ry="3" transform="rotate(-30 1000.7 588)" fill="#fff" stroke-width="1.6"/>
<ellipse cx="964.3" cy="546" rx="17.5" ry="25.7" transform="rotate(-22 964.3 546)" fill="#fff" stroke-width="1.8"/>
<ellipse cx="969" cy="541" rx="3" ry="4.2" transform="rotate(-22 969 541)" stroke-width="1.8"/>
<path d="M973,660L985,652L999,646L1000,655L985,663Z" fill="#fff" stroke-width="1.8"/>
<circle cx="978" cy="660" r="3.2" stroke-width="1.6"/>
<path d="M838,495C840,489.8 846.3,490 852,489C857.7,488 864.5,487.5 872,489C879.5,490.5 889,492.8 897,498C905,503.2 913.2,512 920,520C926.8,528 932.7,536.8 938,546C943.3,555.2 948.3,564.8 952,575C955.7,585.2 958.3,597 960,607C961.7,617 962.3,627.5 962,635C961.7,642.5 960.3,647.2 958,652C955.7,656.8 952.7,661.3 948,664C943.3,666.7 937.2,669.5 930,668C922.8,666.5 913.3,662.2 905,655C896.7,647.8 887.2,635.8 880,625C872.8,614.2 867,601.7 862,590C857,578.3 853.7,566.7 850,555C846.3,543.3 842,530 840,520C838,510 836,500.2 838,495Z" stroke-width="1.4"/>
<ellipse cx="850" cy="532" rx="2" ry="2.8" transform="rotate(-30 850 532)" stroke-width="1.6" fill="#fff"/>
<ellipse cx="867.5" cy="584.5" rx="2" ry="2.8" transform="rotate(-30 867.5 584.5)" stroke-width="1.6" fill="#fff"/>
<ellipse cx="907" cy="640.5" rx="2" ry="2.8" transform="rotate(-30 907 640.5)" stroke-width="1.6" fill="#fff"/>
<ellipse cx="959.7" cy="653.3" rx="2" ry="2.8" transform="rotate(-30 959.7 653.3)" stroke-width="1.6" fill="#fff"/>
<ellipse cx="938.7" cy="539" rx="2" ry="2.8" transform="rotate(-30 938.7 539)" stroke-width="1.6" fill="#fff"/>
<ellipse cx="896.7" cy="490" rx="2" ry="2.8" transform="rotate(-30 896.7 490)" stroke-width="1.6" fill="#fff"/>
<ellipse cx="854.7" cy="490" rx="2" ry="2.8" transform="rotate(-30 854.7 490)" stroke-width="1.6" fill="#fff"/>
<path d="M810.3,499.3C808.3,503.6 804.1,511 803.3,518C802.5,525 804.1,535.8 805.7,541.3C807.3,546.8 810.8,545.6 812.7,550.7C814.6,555.8 814.6,563.2 817.3,571.7C820,580.2 824.3,592.3 829,602C833.7,611.7 839.1,620.7 845.3,630C851.5,639.3 859.7,651 866.3,658C872.9,665 878.8,668.1 885,672C891.2,675.9 897.9,679.8 903.7,681.3C909.5,682.8 914.2,681.7 920,681.3C925.8,680.9 932.5,681.3 938.7,679C944.9,676.7 952.6,672.3 957.3,667.3C962,662.2 964.4,656.1 966.7,648.7C969,641.3 971.7,630 971.3,623C970.9,616 966.6,616.4 964.3,606.7C962,597 961.2,576 957.3,564.7C953.4,553.4 946.4,548.3 941,539C935.6,529.7 932.3,516.9 924.7,508.7C917.1,500.5 903.3,495.4 895.5,490C887.7,484.6 885.2,478.7 878,476C870.8,473.3 860.1,473.2 852.3,474C844.5,474.8 837.5,477.6 831.3,480.7C825.1,483.8 818.5,489.2 815,492.3C811.5,495.4 812.2,495 810.3,499.3Z" stroke-width="2"/>
<path d="M833.7,497C838,491.2 842.6,490.8 850,490C857.4,489.2 869.5,488.8 878,492.3C886.5,495.8 894.3,504.8 901.3,511C908.3,517.2 913.8,521.5 920,529.7C926.2,537.9 933.2,550.3 938.7,560C944.2,569.7 949.2,577.9 952.7,588C956.2,598.1 958.9,611.4 959.7,620.7C960.5,630 960,637 957.3,644C954.6,651 949.5,658.8 943.3,662.7C937.1,666.6 928.5,668.5 920,667.3C911.5,666.1 901.3,661.9 892,655.7C882.7,649.5 872.5,639.7 864,630C855.5,620.3 846.9,609 840.7,597.3C834.5,585.6 829.4,572 826.7,560C824,548 823.1,535.5 824.3,525C825.5,514.5 829.4,502.8 833.7,497Z" stroke-width="2"/>
<ellipse cx="810" cy="500" rx="3.2" ry="4.2" transform="rotate(-30 810 500)" fill="#fff" stroke-width="1.8"/>
<ellipse cx="810" cy="500" rx="1.1" ry="1.8" transform="rotate(-30 810 500)" fill="#000" stroke="none"/>
<ellipse cx="812.7" cy="550.7" rx="3.2" ry="4.2" transform="rotate(-30 812.7 550.7)" fill="#fff" stroke-width="1.8"/>
<ellipse cx="812.7" cy="550.7" rx="1.1" ry="1.8" transform="rotate(-30 812.7 550.7)" fill="#000" stroke="none"/>
<ellipse cx="831" cy="604" rx="3.2" ry="4.2" transform="rotate(-30 831 604)" fill="#fff" stroke-width="1.8"/>
<ellipse cx="831" cy="604" rx="1.1" ry="1.8" transform="rotate(-30 831 604)" fill="#000" stroke="none"/>
<ellipse cx="868.7" cy="660.3" rx="3.2" ry="4.2" transform="rotate(-30 868.7 660.3)" fill="#fff" stroke-width="1.8"/>
<ellipse cx="868.7" cy="660.3" rx="1.1" ry="1.8" transform="rotate(-30 868.7 660.3)" fill="#000" stroke="none"/>
<ellipse cx="903.7" cy="681.3" rx="3.2" ry="4.2" transform="rotate(-30 903.7 681.3)" fill="#fff" stroke-width="1.8"/>
<ellipse cx="903.7" cy="681.3" rx="1.1" ry="1.8" transform="rotate(-30 903.7 681.3)" fill="#000" stroke="none"/>
<ellipse cx="964.3" cy="606.7" rx="3.2" ry="4.2" transform="rotate(-30 964.3 606.7)" fill="#fff" stroke-width="1.8"/>
<ellipse cx="964.3" cy="606.7" rx="1.1" ry="1.8" transform="rotate(-30 964.3 606.7)" fill="#000" stroke="none"/>
<ellipse cx="941" cy="539" rx="3.2" ry="4.2" transform="rotate(-30 941 539)" fill="#fff" stroke-width="1.8"/>
<ellipse cx="941" cy="539" rx="1.1" ry="1.8" transform="rotate(-30 941 539)" fill="#000" stroke="none"/>
<ellipse cx="895.5" cy="490" rx="3.2" ry="4.2" transform="rotate(-30 895.5 490)" fill="#fff" stroke-width="1.8"/>
<ellipse cx="895.5" cy="490" rx="1.1" ry="1.8" transform="rotate(-30 895.5 490)" fill="#000" stroke="none"/>
<ellipse cx="852.3" cy="476" rx="3.2" ry="4.2" transform="rotate(-30 852.3 476)" fill="#fff" stroke-width="1.8"/>
<ellipse cx="852.3" cy="476" rx="1.1" ry="1.8" transform="rotate(-30 852.3 476)" fill="#000" stroke="none"/>
<path d="M797,623.5L970,541" stroke-width="1.6"/>
<path d="M1015.7,518L1040,508.7L1037.8,613.7L1056,604" stroke-width="1.6"/>
<ellipse cx="1160" cy="556" rx="33.7" ry="57.2" transform="rotate(-26 1160 556)" stroke-width="1.9"/>
<ellipse cx="1160" cy="556" rx="29.5" ry="53" transform="rotate(-26 1160 556)" stroke-width="1.8"/>
<ellipse cx="1107.2" cy="581.5" rx="35.2" ry="60.2" transform="rotate(-26 1107.2 581.5)" stroke-width="1.9"/>
<ellipse cx="1107.2" cy="581.5" rx="30.6" ry="55.6" transform="rotate(-26 1107.2 581.5)" stroke-width="1.8"/>
<path d="M1072,597L1151,562" stroke-width="1.6"/>
<path d="M1150,562Q1156,554 1163,554Q1166,558 1162,560Z" fill="#fff" stroke-width="1.6"/>
<ellipse cx="1065" cy="601.3" rx="8.3" ry="8" transform="rotate(-20 1065 601.3)" fill="#fff" stroke-width="2.4"/>
<path d="M1059,599Q1063,603 1062,609M1068,596Q1072,601 1071,607" stroke-width="2"/>
<ellipse cx="776.5" cy="632" rx="3.8" ry="4.8" transform="rotate(-20 776.5 632)" fill="#000" stroke-width="1.5"/>
<ellipse cx="789.5" cy="625.8" rx="4.6" ry="6.6" transform="rotate(-20 789.5 625.8)" fill="#fff" stroke-width="1.8"/>
<ellipse cx="789.5" cy="625.8" rx="1.3" ry="1.6" fill="#000" stroke="none"/>
<path d="M541,896L555,890L652.5,900.5L702.5,873.5L702.5,810L733.5,796.5" stroke-width="1.8"/>
<path d="M515,935L575,903.5L651.5,906L711,874L711,830L733.5,820" stroke-width="1.8"/>
<path d="M657.5,780C657.1,781.2 654.6,784.4 655,787.5C655.4,790.6 657.9,797.1 660,798.8C662.1,800.4 665,796.5 667.5,797.5C670,798.5 671.9,800.8 675,805C678.1,809.2 684,816.7 686.2,822.5C688.5,828.3 687.5,836.2 688.8,840C690,843.8 685.4,841.7 693.8,845C702.1,848.3 727.7,856.7 738.8,860C749.8,863.3 756.5,864.2 760,865" stroke-width="1.9"/>
<path d="M733.75,796L735,845" stroke-width="1.6"/>
<path d="M713,785L733,796M710,790Q706,795 712,800L725,792M721,783Q716,787 720,792" stroke-width="1.6"/>
<path d="M647,716L650,715.5L657,719L716,687.5L718,688L719,698L788,739L805,748" stroke-width="2"/>
<path d="M647,716L645,744L655,752L669,748L734,785L743,790" stroke-width="2"/>
<path d="M669,748L679,759L657,780" stroke-width="1.9"/>
<path d="M656,760L655,787" stroke-width="1.4" stroke-dasharray="3,2"/>
<path d="M657,724L656,745M672,730L670,744M709,718L726,708" stroke-width="1.5" stroke-dasharray="3,2"/>
<path d="M645.5,679L665,670L695,731L708,726" stroke-width="1.6"/>
<circle cx="710" cy="725.5" r="3" stroke-width="1.5"/>
<path d="M779.75,683.5L788,694L770,704" stroke-width="1.6"/>
<path d="M754,745L778,733L800,748" stroke-width="1.8"/>
<circle cx="757" cy="753" r="2.8" stroke-width="1.5"/>
<path d="M752.5,745L777.5,733.75L812.5,757.5L818.75,758.75L840,797.5L840,801.25L823.75,810L822,850" stroke-width="2"/>
<path d="M792.5,767.5L818.75,757.5" stroke-width="1.8"/>
<path d="M736.25,762.5L746.25,782.5" stroke-width="1.8"/>
<path d="M735,795L736.25,842.5L785,863.75L812.5,851.25" stroke-width="2"/>
<path d="M700,771.25L735,795" stroke-width="1.9"/>
<path d="M743.75,778.75L816,906" stroke-width="1.3"/>
<ellipse cx="762.5" cy="775" rx="10.5" ry="5.8" transform="rotate(-25 762.5 775)" stroke-width="1.9"/>
<path d="M752,770Q762,755 778,766" stroke-width="1.8"/>
<path d="M805,770L808,800M816,800L818,845M826,815L828,842" stroke-width="1.3" stroke-dasharray="3,2"/>
<path d="M841,805L842.5,830L826,840" stroke-width="1.8"/>
<ellipse cx="820" cy="805" rx="2.6" ry="3" transform="rotate(-30 820 805)" stroke-width="1.7"/>
<ellipse cx="820" cy="836" rx="2.6" ry="3" transform="rotate(-30 820 836)" stroke-width="1.7"/>
<path d="M832,812L834,832M836,810L838,830" stroke-width="1.2"/>
<path d="M785,790L788,845" stroke-width="1.2" stroke-dasharray="2,3"/>
<path d="M740.8,707C742.6,705.8 742.4,696.3 752,700C761.6,703.7 788.2,722.6 798.5,729C808.8,735.4 808,735.4 814,738.5C820,741.6 829.2,744.3 834.5,747.5C839.8,750.7 841.5,752.1 845.8,757.8C850,763.4 856.5,773.2 859.8,781.5C863,789.8 864.1,801.9 865,807.8C865.9,813.6 867.8,811 865,816.5C862.2,822 853,836.1 848.5,841C844,845.9 841.5,845 838,846C834.5,847 831,845.4 827.5,847C824,848.6 821.1,852.7 817,855.8C812.9,858.8 809.9,863.9 803,865.5C796.1,867.1 781.2,865.9 775.8,865.5C770.2,865.1 771,863.4 770,863" stroke-width="7.6"/>
<circle cx="802" cy="728" r="4.6" fill="#000" stroke="none"/>
<circle cx="840" cy="749" r="4.6" fill="#000" stroke="none"/>
<circle cx="863" cy="784" r="4.6" fill="#000" stroke="none"/>
<circle cx="864" cy="817" r="4.6" fill="#000" stroke="none"/>
<circle cx="846" cy="845" r="4.6" fill="#000" stroke="none"/>
<circle cx="806" cy="864" r="4.6" fill="#000" stroke="none"/>
<circle cx="775" cy="864" r="4.6" fill="#000" stroke="none"/>
<path d="M740.8,707C742.6,705.8 742.4,696.3 752,700C761.6,703.7 788.2,722.6 798.5,729C808.8,735.4 808,735.4 814,738.5C820,741.6 829.2,744.3 834.5,747.5C839.8,750.7 841.5,752.1 845.8,757.8C850,763.4 856.5,773.2 859.8,781.5C863,789.8 864.1,801.9 865,807.8C865.9,813.6 867.8,811 865,816.5C862.2,822 853,836.1 848.5,841C844,845.9 841.5,845 838,846C834.5,847 831,845.4 827.5,847C824,848.6 821.1,852.7 817,855.8C812.9,858.8 809.9,863.9 803,865.5C796.1,867.1 781.2,865.9 775.8,865.5C770.2,865.1 771,863.4 770,863" stroke="#fff" stroke-width="3.6"/>
<circle cx="802" cy="728" r="2.5999999999999996" fill="#fff" stroke="none"/>
<ellipse cx="802" cy="728" rx="1.3" ry="2" transform="rotate(-30 802 728)" fill="#000" stroke="none"/>
<circle cx="840" cy="749" r="2.5999999999999996" fill="#fff" stroke="none"/>
<ellipse cx="840" cy="749" rx="1.3" ry="2" transform="rotate(-30 840 749)" fill="#000" stroke="none"/>
<circle cx="863" cy="784" r="2.5999999999999996" fill="#fff" stroke="none"/>
<ellipse cx="863" cy="784" rx="1.3" ry="2" transform="rotate(-30 863 784)" fill="#000" stroke="none"/>
<circle cx="864" cy="817" r="2.5999999999999996" fill="#fff" stroke="none"/>
<ellipse cx="864" cy="817" rx="1.3" ry="2" transform="rotate(-30 864 817)" fill="#000" stroke="none"/>
<circle cx="846" cy="845" r="2.5999999999999996" fill="#fff" stroke="none"/>
<ellipse cx="846" cy="845" rx="1.3" ry="2" transform="rotate(-30 846 845)" fill="#000" stroke="none"/>
<circle cx="806" cy="864" r="2.5999999999999996" fill="#fff" stroke="none"/>
<ellipse cx="806" cy="864" rx="1.3" ry="2" transform="rotate(-30 806 864)" fill="#000" stroke="none"/>
<circle cx="775" cy="864" r="2.5999999999999996" fill="#fff" stroke="none"/>
<ellipse cx="775" cy="864" rx="1.3" ry="2" transform="rotate(-30 775 864)" fill="#000" stroke="none"/>
<path d="M861,769L892.5,751.5L890,846L960,817" stroke-width="1.8"/>
<path d="M702.5,810L702.5,873.5M711,830L711,874" stroke-width="0"/>
<path d="M607.5,788.8 601.2,792.5 595,805 593.8,811.2 573.8,823.8 572.5,826.2 578.8,827.5 590,822.5 590,827.5 596.2,833.8 602.5,835 607.5,830 613.8,830 622.5,838.8 630,852.5 637.5,856.2 638.8,870 677.5,883.8 685,880 686.2,868.8 670,865 668.8,823.8Z" fill="#fff" stroke-width="2" stroke-linejoin="round"/>
<path d="M637.5,856.25L670,867.5" stroke-width="1.8"/>
<ellipse cx="604.4" cy="815" rx="1.6" ry="8.8" stroke-width="1.5"/>
<path d="M615,802Q619,805 618,809M627,795L632,797" stroke-width="1.6"/>
<path d="M678,872L680,877" stroke-width="1.4"/>
<ellipse cx="596.2" cy="857.5" rx="11" ry="14" transform="rotate(-32 596.2 857.5)" fill="#fff" stroke-width="2"/>
<ellipse cx="594.5" cy="858" rx="5.8" ry="9.5" transform="rotate(-32 594.5 858)" stroke-width="1.8"/>
<path d="M590,853L599,864" stroke-width="1.2"/>
<ellipse cx="725" cy="890" rx="8" ry="9.5" transform="rotate(-25 725 890)" fill="#fff" stroke-width="2"/>
<path d="M721,886Q726,888 724,895" stroke-width="1.5"/>
<path d="M606,925L615,915L632,911L628,921L616,932L609,934Z" fill="#fff" stroke-width="1.8"/>
<path d="M613,925L625,919M618,928L624,925" stroke-width="1.2"/>
<path d="M520,897L537,892Q546,892 544,904L528,913" fill="#fff" stroke-width="2"/>
<ellipse cx="524.5" cy="906" rx="7.2" ry="10.5" transform="rotate(-25 524.5 906)" fill="#fff" stroke-width="2"/>
<path d="M522,902Q527,903 526,910" stroke-width="1.4"/>
<ellipse cx="506" cy="915" rx="10" ry="11" transform="rotate(-25 506 915)" fill="#fff" stroke-width="2"/>
<path d="M502,910Q509,912 507,918L504,920" stroke-width="1.6"/>
<path d="M492,931L500,929L502,937L511,935Q516,936 513,940L504,948L499,945Z" fill="#fff" stroke-width="1.8"/>
<ellipse cx="510" cy="938" rx="1.8" ry="2.4" transform="rotate(-30 510 938)" stroke-width="1.4"/>
<path d="M480,957L497,946" stroke-width="1.5"/>
<path d="M486.7,473.3C487.8,469.7 489.8,467.5 492,465.3C494.2,463.1 497.8,461.1 500,460C502.2,458.9 502.6,458.2 505.3,458.7C508,459.1 512.4,460.7 516,462.7C519.6,464.7 523.6,467.1 526.7,470.7C529.8,474.2 532.5,479.6 534.7,484C536.9,488.4 538.9,493.5 540,497.3C541.1,501.1 542.2,504 541.3,506.7C540.4,509.4 538.5,510.9 534.7,513.3C530.9,515.7 522.7,519.1 518.7,521.3C514.7,523.5 513.6,526 510.7,526.7C507.8,527.4 503.3,526.9 501.3,525.3C499.3,523.7 500.2,519.3 498.7,517.3C497.1,515.3 494,516.2 492,513.3C490,510.4 487.8,504.4 486.7,500C485.6,495.6 485.3,491.1 485.3,486.7C485.3,482.2 485.6,476.9 486.7,473.3Z" fill="#fff" stroke-width="2"/>
<ellipse cx="500.5" cy="496.5" rx="12.5" ry="19" transform="rotate(-22 500.5 496.5)" fill="#fff" stroke-width="2"/>
<path d="M496,476Q494,466 500,463Q507,462 508,468L507,479" stroke-width="1.8"/>
<path d="M520,513Q519,505 525,505Q531,506 531,512L528,517" stroke-width="1.8"/>
<path d="M501,517Q505,513 510,517L511,526" stroke-width="1.8"/>
<path d="M511,470L520,474L524,484L521,492M514,480L520,483L522,500L517,503M526,478L533,495M528,500L536,506" stroke-width="1.7"/>
<ellipse cx="550" cy="472.5" rx="17.5" ry="25.5" transform="rotate(-25 550 472.5)" stroke-width="2"/>
<ellipse cx="550" cy="472.5" rx="14.5" ry="22.5" transform="rotate(-25 550 472.5)" stroke-width="1.6"/>
<path d="M928,808Q929,803 936,803L941,805L960,826Q962,832 956,834L949,835L930,813Z" fill="#fff" stroke-width="2"/>
<ellipse cx="944" cy="819" rx="3" ry="4.5" transform="rotate(-35 944 819)" stroke-width="1.6"/>
<path d="M961,826L992,811" stroke-width="1.6"/>
<path d="M946,825Q934,832 930,845Q927,860 932,872Q936,878 948,880L962,881" stroke-width="2"/>
<path d="M934,874L950,890" stroke-width="2"/>
<path d="M956,879L965,882M948,888L956,895" stroke-width="3.6"/>
<path d="M1013.8,906.2C1014.8,901.9 1016.9,901.5 1018.8,900C1020.6,898.5 1020.8,900.6 1025,897.5C1029.2,894.4 1038.1,883.9 1043.8,881.2C1049.4,878.6 1054.6,881.1 1058.8,881.9C1062.9,882.7 1066.7,884.1 1068.8,886.2C1070.8,888.4 1071,892.3 1071.2,895C1071.5,897.7 1071.5,899.7 1070,902.5C1068.5,905.3 1064,906.6 1062,912C1060,917.4 1060.8,927.8 1058,935C1055.2,942.2 1050.5,950.6 1045,955C1039.5,959.4 1029.6,960.4 1025,961.2C1020.4,962.1 1019.2,961.7 1017.5,960C1015.8,958.3 1015.8,956.9 1015,951.2C1014.2,945.6 1012.7,933.8 1012.5,926.2C1012.3,918.8 1012.7,910.6 1013.8,906.2Z" fill="#fff" stroke-width="2"/>
<path d="M1022.5,922.5C1022.5,917.1 1022.5,912.1 1025,907.5C1027.5,902.9 1032.9,897.5 1037.5,895C1042.1,892.5 1048.5,891.9 1052.5,892.5C1056.5,893.1 1060.3,895 1061.2,898.8C1062.2,902.5 1059.9,909 1058,915C1056.1,921 1053.8,929.4 1050,935C1046.2,940.6 1039.2,947.9 1035,948.8C1030.8,949.6 1027.1,944.4 1025,940C1022.9,935.6 1022.5,927.9 1022.5,922.5Z" stroke-width="1.8"/>
<ellipse cx="1021.2" cy="907.5" rx="2" ry="2.8" transform="rotate(-30 1021.2 907.5)" stroke-width="1.8"/>
<ellipse cx="1065" cy="891.2" rx="2" ry="2.8" transform="rotate(-30 1065 891.2)" stroke-width="1.8"/>
<ellipse cx="1021.2" cy="955" rx="2" ry="2.8" transform="rotate(-30 1021.2 955)" stroke-width="1.8"/>
<path d="M1042.5,920C1043.6,915 1044.9,916.5 1047.5,915C1050.1,913.5 1055.6,908.5 1058,911C1060.4,913.5 1062,921.8 1062,930C1062,938.2 1060.5,953.3 1058,960C1055.5,966.7 1049.6,969 1047,970C1044.4,971 1043.5,970.2 1042.5,966C1041.5,961.8 1041,952.7 1041,945C1041,937.3 1041.4,925 1042.5,920Z" fill="#fff" stroke-width="1.9"/>
<path d="M1070,903.8C1074.4,901.2 1079.6,897.5 1085,896.2C1090.4,895 1096.9,895.2 1102.5,896.2C1108.1,897.3 1114.2,899 1118.8,902.5C1123.3,906 1127.7,911.5 1130,917.5C1132.3,923.5 1132.7,931.7 1132.5,938.8C1132.3,945.8 1131,953.1 1128.8,960C1126.5,966.9 1123.1,974.2 1118.8,980C1114.4,985.8 1108.1,991.9 1102.5,995C1096.9,998.1 1090.4,998.5 1085,998.8C1079.6,999 1074.6,997.7 1070,996.2C1065.4,994.8 1060.8,992.7 1057.5,990C1054.2,987.3 1051.9,984.4 1050,980C1048.1,975.6 1046.9,969.6 1046.2,963.8C1045.6,957.9 1045.6,951.2 1046.2,945C1046.9,938.8 1047.9,931.9 1050,926.2C1052.1,920.6 1055.4,915 1058.8,911.2C1062.1,907.5 1065.6,906.2 1070,903.8Z" fill="#fff" stroke-width="2"/>
<ellipse cx="1095.5" cy="946" rx="33" ry="50" transform="rotate(-22 1095.5 946)" stroke-width="1.9"/>
<ellipse cx="1097" cy="945.5" rx="29" ry="45.5" transform="rotate(-22 1097 945.5)" stroke-width="1.4"/>
<ellipse cx="1083.8" cy="943.8" rx="14" ry="24" transform="rotate(-22 1083.8 943.8)" fill="#fff" stroke-width="2"/>
<path d="M1097,921Q1102,940 1092,968" stroke-width="1.6"/>
<path d="M1079,900L1085,896" stroke-width="2.5"/>
<path d="M1107,909.5Q1103,909.5 1103,912.5Q1103,915.5 1107,915.5" stroke-width="1.7"/>
<path d="M1107,953.25Q1103,953.25 1103,956.25Q1103,959.25 1107,959.25" stroke-width="1.7"/>
<path d="M1070.75,972Q1066.75,972 1066.75,975Q1066.75,978 1070.75,978" stroke-width="1.7"/>
<ellipse cx="1146.2" cy="974.4" rx="19.5" ry="28.5" transform="rotate(-28 1146.2 974.4)" fill="#fff" stroke-width="2"/>
<ellipse cx="1150" cy="975.6" rx="9.5" ry="17" transform="rotate(-28 1150 975.6)" stroke-width="2.2"/>
<path d="M1157,962Q1162,975 1155,990" stroke-width="1.2" stroke-dasharray="2,2"/>
<path d="M569,637L603.5,661L717.5,601L767,667" stroke-width="1.8"/>
<path d="M582.5,614.5 599,607 624.5,624.2 636.5,619.8 642.5,625.5 626,634 605,627 597,624.5 591,632 585.5,639 580,636 584,627 581,618Z" fill="#fff" stroke-width="2"/>
<path d="M585,620L599,614M593,622L598,631" stroke-width="1.6"/>
<path d="M692,623.5C693.2,621.6 694.8,622 698,622.5C701.2,623 707.2,625.3 711.5,626.5C715.8,627.7 720.9,627.2 723.5,629.5C726.1,631.8 727,636.2 727.2,640C727.5,643.8 725.9,648.8 725,652C724.1,655.2 724.5,657.6 722,659.5C719.5,661.4 713.5,663.5 710,663.2C706.5,663 704,660.9 701,658C698,655.1 693.8,650 692,646C690.2,642 690.5,637.8 690.5,634C690.5,630.2 690.8,625.4 692,623.5Z" fill="#fff" stroke-width="2"/>
<path d="M712,626Q725,632 724,650" stroke-width="1.4"/>
<path d="M703,660Q712,668 721,662" stroke-width="1.8"/>
<path d="M716,640L718,652" stroke-width="1.2" stroke-dasharray="2,2"/>
<ellipse cx="721.7" cy="673" rx="15" ry="11" transform="rotate(-15 721.7 673)" stroke-width="3"/>
<ellipse cx="721.7" cy="673" rx="11.5" ry="7.8" transform="rotate(-15 721.7 673)" stroke-width="1.2"/>
</g>
<g font-family="Liberation Sans, sans-serif" font-weight="bold" font-size="16" fill="#000">
<text x="588.90" y="155.60" textLength="79.20" lengthAdjust="spacingAndGlyphs">14024A/B/C</text>
<text x="704.40" y="148.10" textLength="41.20" lengthAdjust="spacingAndGlyphs">11009</text>
<text x="548.15" y="196.60" textLength="55.20" lengthAdjust="spacingAndGlyphs">92002A</text>
<text x="538.90" y="255.60" textLength="54.70" lengthAdjust="spacingAndGlyphs">92002A</text>
<text x="665.40" y="258.10" textLength="42.70" lengthAdjust="spacingAndGlyphs">92002</text>
<text x="692.40" y="294.60" textLength="43.70" lengthAdjust="spacingAndGlyphs">92002</text>
<text x="548.15" y="327.60" textLength="52.20" lengthAdjust="spacingAndGlyphs">92002B</text>
<text x="578.40" y="414.35" textLength="52.20" lengthAdjust="spacingAndGlyphs">92002B</text>
<text x="632.40" y="400.10" textLength="55.20" lengthAdjust="spacingAndGlyphs">92002A</text>
<text x="1037.40" y="111.60" textLength="50.70" lengthAdjust="spacingAndGlyphs">11009E</text>
<text x="1105.40" y="144.60" textLength="69.20" lengthAdjust="spacingAndGlyphs">14024/F/G</text>
<text x="1131.90" y="169.60" textLength="24.70" lengthAdjust="spacingAndGlyphs">222</text>
<text x="1073.90" y="255.60" textLength="54.70" lengthAdjust="spacingAndGlyphs">92002A</text>
<text x="1074.40" y="339.35" textLength="52.20" lengthAdjust="spacingAndGlyphs">92002B</text>
<text x="903.15" y="421.60" textLength="51.20" lengthAdjust="spacingAndGlyphs">11009D</text>
<text x="956.90" y="401.60" textLength="69.70" lengthAdjust="spacingAndGlyphs">14041/A/B</text>
<text x="481.90" y="441.60" textLength="41.20" lengthAdjust="spacingAndGlyphs">11012</text>
<text x="553.15" y="535.60" textLength="26.20" lengthAdjust="spacingAndGlyphs">670</text>
<text x="477.40" y="566.60" textLength="24.20" lengthAdjust="spacingAndGlyphs">120</text>
<text x="1008.15" y="468.10" textLength="54.95" lengthAdjust="spacingAndGlyphs">92002A</text>
<text x="1114.40" y="476.60" textLength="52.20" lengthAdjust="spacingAndGlyphs">14024H</text>
<text x="569.40" y="575.60" textLength="41.20" lengthAdjust="spacingAndGlyphs">13169</text>
<text x="753.90" y="605.60" textLength="42.70" lengthAdjust="spacingAndGlyphs">92015</text>
<text x="773.90" y="661.60" textLength="42.70" lengthAdjust="spacingAndGlyphs">92022</text>
<text x="634.90" y="660.60" textLength="41.20" lengthAdjust="spacingAndGlyphs">16115</text>
<text x="752.40" y="680.10" textLength="43.20" lengthAdjust="spacingAndGlyphs">92055</text>
<text x="610.40" y="722.60" textLength="34.20" lengthAdjust="spacingAndGlyphs">120B</text>
<text x="581.90" y="763.10" textLength="48.70" lengthAdjust="spacingAndGlyphs">14024E</text>
<text x="524.40" y="809.35" textLength="33.70" lengthAdjust="spacingAndGlyphs">120B</text>
<text x="490.40" y="841.60" textLength="42.70" lengthAdjust="spacingAndGlyphs">92046</text>
<text x="477.40" y="869.35" textLength="41.20" lengthAdjust="spacingAndGlyphs">92049</text>
<text x="531.90" y="870.60" textLength="41.20" lengthAdjust="spacingAndGlyphs">52005</text>
<text x="625.40" y="893.10" textLength="35.20" lengthAdjust="spacingAndGlyphs">120A</text>
<text x="769.40" y="905.60" textLength="51.20" lengthAdjust="spacingAndGlyphs">14024D</text>
<text x="493.15" y="976.60" textLength="41.20" lengthAdjust="spacingAndGlyphs">92037</text>
<text x="604.40" y="971.60" textLength="41.20" lengthAdjust="spacingAndGlyphs">92071</text>
<text x="706.40" y="945.60" textLength="52.95" lengthAdjust="spacingAndGlyphs">92049B</text>
<text x="781.90" y="974.35" textLength="34.70" lengthAdjust="spacingAndGlyphs">120C</text>
<text x="460.40" y="1011.60" textLength="25.70" lengthAdjust="spacingAndGlyphs">223</text>
<text x="1049.40" y="646.10" textLength="53.20" lengthAdjust="spacingAndGlyphs">92071A</text>
<text x="1099.40" y="671.60" textLength="43.20" lengthAdjust="spacingAndGlyphs">92075</text>
<text x="973.90" y="708.10" textLength="41.20" lengthAdjust="spacingAndGlyphs">14032</text>
<text x="911.90" y="726.60" textLength="51.20" lengthAdjust="spacingAndGlyphs">11009B</text>
<text x="981.40" y="773.10" textLength="25.20" lengthAdjust="spacingAndGlyphs">223</text>
<text x="919.40" y="784.35" textLength="40.20" lengthAdjust="spacingAndGlyphs">13151</text>
<text x="1023.90" y="855.60" textLength="51.70" lengthAdjust="spacingAndGlyphs">11009C</text>
<text x="829.40" y="895.60" textLength="52.20" lengthAdjust="spacingAndGlyphs">11009A</text>
<text x="1082.40" y="874.35" textLength="40.70" lengthAdjust="spacingAndGlyphs">14022</text>
<text x="1136.40" y="916.60" textLength="53.70" lengthAdjust="spacingAndGlyphs">92049A</text>
<text x="1094.40" y="1039.35" textLength="40.70" lengthAdjust="spacingAndGlyphs">92001</text>
<text x="1072.5" y="75.8" textLength="70" lengthAdjust="spacingAndGlyphs" font-size="15.5">E1431-0133</text>
</g>
<g fill="none" stroke="#d2d2d2" stroke-width="1.1" style="mix-blend-mode:multiply"><use href="#w" x="-78.06" y="49.20"/>
<use href="#w" x="-4.44" y="57.60"/>
<use href="#w" x="-33.95" y="125.65"/>
<use href="#w" x="-63.46" y="193.70"/>
<use href="#w" x="-92.97" y="261.75"/>
<use href="#w" x="98.69" y="-2.05"/>
<use href="#w" x="69.18" y="66.00"/>
<use href="#w" x="39.67" y="134.05"/>
<use href="#w" x="10.16" y="202.10"/>
<use href="#w" x="-19.35" y="270.15"/>
<use href="#w" x="-48.86" y="338.20"/>
<use href="#w" x="-78.37" y="406.25"/>
<use href="#w" x="172.31" y="6.35"/>
<use href="#w" x="142.80" y="74.40"/>
<use href="#w" x="113.29" y="142.45"/>
<use href="#w" x="83.78" y="210.50"/>
<use href="#w" x="54.27" y="278.55"/>
<use href="#w" x="24.76" y="346.60"/>
<use href="#w" x="-4.75" y="414.65"/>
<use href="#w" x="-34.26" y="482.70"/>
<use href="#w" x="-63.77" y="550.75"/>
<use href="#w" x="-93.28" y="618.80"/>
<use href="#w" x="245.93" y="14.75"/>
<use href="#w" x="216.42" y="82.80"/>
<use href="#w" x="186.91" y="150.85"/>
<use href="#w" x="157.40" y="218.90"/>
<use href="#w" x="127.89" y="286.95"/>
<use href="#w" x="98.38" y="355.00"/>
<use href="#w" x="68.87" y="423.05"/>
<use href="#w" x="39.36" y="491.10"/>
<use href="#w" x="9.85" y="559.15"/>
<use href="#w" x="-19.66" y="627.20"/>
<use href="#w" x="-49.17" y="695.25"/>
<use href="#w" x="-78.68" y="763.30"/>
<use href="#w" x="319.55" y="23.15"/>
<use href="#w" x="290.04" y="91.20"/>
<use href="#w" x="260.53" y="159.25"/>
<use href="#w" x="231.02" y="227.30"/>
<use href="#w" x="201.51" y="295.35"/>
<use href="#w" x="172.00" y="363.40"/>
<use href="#w" x="142.49" y="431.45"/>
<use href="#w" x="112.98" y="499.50"/>
<use href="#w" x="83.47" y="567.55"/>
<use href="#w" x="53.96" y="635.60"/>
<use href="#w" x="24.45" y="703.65"/>
<use href="#w" x="-5.06" y="771.70"/>
<use href="#w" x="-34.57" y="839.75"/>
<use href="#w" x="-64.08" y="907.80"/>
<use href="#w" x="-93.59" y="975.85"/>
<use href="#w" x="393.17" y="31.55"/>
<use href="#w" x="363.66" y="99.60"/>
<use href="#w" x="334.15" y="167.65"/>
<use href="#w" x="304.64" y="235.70"/>
<use href="#w" x="275.13" y="303.75"/>
<use href="#w" x="245.62" y="371.80"/>
<use href="#w" x="216.11" y="439.85"/>
<use href="#w" x="186.60" y="507.90"/>
<use href="#w" x="157.09" y="575.95"/>
<use href="#w" x="127.58" y="644.00"/>
<use href="#w" x="98.07" y="712.05"/>
<use href="#w" x="68.56" y="780.10"/>
<use href="#w" x="39.05" y="848.15"/>
<use href="#w" x="9.54" y="916.20"/>
<use href="#w" x="-19.97" y="984.25"/>
<use href="#w" x="-49.48" y="1052.30"/>
<use href="#w" x="-78.99" y="1120.35"/>
<use href="#w" x="466.79" y="39.95"/>
<use href="#w" x="437.28" y="108.00"/>
<use href="#w" x="407.77" y="176.05"/>
<use href="#w" x="378.26" y="244.10"/>
<use href="#w" x="348.75" y="312.15"/>
<use href="#w" x="319.24" y="380.20"/>
<use href="#w" x="289.73" y="448.25"/>
<use href="#w" x="260.22" y="516.30"/>
<use href="#w" x="230.71" y="584.35"/>
<use href="#w" x="201.20" y="652.40"/>
<use href="#w" x="171.69" y="720.45"/>
<use href="#w" x="142.18" y="788.50"/>
<use href="#w" x="112.67" y="856.55"/>
<use href="#w" x="83.16" y="924.60"/>
<use href="#w" x="53.65" y="992.65"/>
<use href="#w" x="24.14" y="1060.70"/>
<use href="#w" x="-5.37" y="1128.75"/>
<use href="#w" x="-34.88" y="1196.80"/>
<use href="#w" x="540.41" y="48.35"/>
<use href="#w" x="510.90" y="116.40"/>
<use href="#w" x="481.39" y="184.45"/>
<use href="#w" x="451.88" y="252.50"/>
<use href="#w" x="422.37" y="320.55"/>
<use href="#w" x="392.86" y="388.60"/>
<use href="#w" x="363.35" y="456.65"/>
<use href="#w" x="333.84" y="524.70"/>
<use href="#w" x="304.33" y="592.75"/>
<use href="#w" x="274.82" y="660.80"/>
<use href="#w" x="245.31" y="728.85"/>
<use href="#w" x="215.80" y="796.90"/>
<use href="#w" x="186.29" y="864.95"/>
<use href="#w" x="156.78" y="933.00"/>
<use href="#w" x="127.27" y="1001.05"/>
<use href="#w" x="97.76" y="1069.10"/>
<use href="#w" x="68.25" y="1137.15"/>
<use href="#w" x="38.74" y="1205.20"/>
<use href="#w" x="614.03" y="56.75"/>
<use href="#w" x="584.52" y="124.80"/>
<use href="#w" x="555.01" y="192.85"/>
<use href="#w" x="525.50" y="260.90"/>
<use href="#w" x="495.99" y="328.95"/>
<use href="#w" x="466.48" y="397.00"/>
<use href="#w" x="436.97" y="465.05"/>
<use href="#w" x="407.46" y="533.10"/>
<use href="#w" x="377.95" y="601.15"/>
<use href="#w" x="348.44" y="669.20"/>
<use href="#w" x="318.93" y="737.25"/>
<use href="#w" x="289.42" y="805.30"/>
<use href="#w" x="259.91" y="873.35"/>
<use href="#w" x="230.40" y="941.40"/>
<use href="#w" x="200.89" y="1009.45"/>
<use href="#w" x="171.38" y="1077.50"/>
<use href="#w" x="141.87" y="1145.55"/>
<use href="#w" x="112.36" y="1213.60"/>
<use href="#w" x="717.16" y="-2.90"/>
<use href="#w" x="687.65" y="65.15"/>
<use href="#w" x="658.14" y="133.20"/>
<use href="#w" x="628.63" y="201.25"/>
<use href="#w" x="599.12" y="269.30"/>
<use href="#w" x="569.61" y="337.35"/>
<use href="#w" x="540.10" y="405.40"/>
<use href="#w" x="510.59" y="473.45"/>
<use href="#w" x="481.08" y="541.50"/>
<use href="#w" x="451.57" y="609.55"/>
<use href="#w" x="422.06" y="677.60"/>
<use href="#w" x="392.55" y="745.65"/>
<use href="#w" x="363.04" y="813.70"/>
<use href="#w" x="333.53" y="881.75"/>
<use href="#w" x="304.02" y="949.80"/>
<use href="#w" x="274.51" y="1017.85"/>
<use href="#w" x="245.00" y="1085.90"/>
<use href="#w" x="215.49" y="1153.95"/>
<use href="#w" x="185.98" y="1222.00"/>
<use href="#w" x="790.78" y="5.50"/>
<use href="#w" x="761.27" y="73.55"/>
<use href="#w" x="731.76" y="141.60"/>
<use href="#w" x="702.25" y="209.65"/>
<use href="#w" x="672.74" y="277.70"/>
<use href="#w" x="643.23" y="345.75"/>
<use href="#w" x="613.72" y="413.80"/>
<use href="#w" x="584.21" y="481.85"/>
<use href="#w" x="554.70" y="549.90"/>
<use href="#w" x="525.19" y="617.95"/>
<use href="#w" x="495.68" y="686.00"/>
<use href="#w" x="466.17" y="754.05"/>
<use href="#w" x="436.66" y="822.10"/>
<use href="#w" x="407.15" y="890.15"/>
<use href="#w" x="377.64" y="958.20"/>
<use href="#w" x="348.13" y="1026.25"/>
<use href="#w" x="318.62" y="1094.30"/>
<use href="#w" x="289.11" y="1162.35"/>
<use href="#w" x="259.60" y="1230.40"/>
<use href="#w" x="864.40" y="13.90"/>
<use href="#w" x="834.89" y="81.95"/>
<use href="#w" x="805.38" y="150.00"/>
<use href="#w" x="775.87" y="218.05"/>
<use href="#w" x="746.36" y="286.10"/>
<use href="#w" x="716.85" y="354.15"/>
<use href="#w" x="687.34" y="422.20"/>
<use href="#w" x="657.83" y="490.25"/>
<use href="#w" x="628.32" y="558.30"/>
<use href="#w" x="598.81" y="626.35"/>
<use href="#w" x="569.30" y="694.40"/>
<use href="#w" x="539.79" y="762.45"/>
<use href="#w" x="510.28" y="830.50"/>
<use href="#w" x="480.77" y="898.55"/>
<use href="#w" x="451.26" y="966.60"/>
<use href="#w" x="421.75" y="1034.65"/>
<use href="#w" x="392.24" y="1102.70"/>
<use href="#w" x="362.73" y="1170.75"/>
<use href="#w" x="333.22" y="1238.80"/>
<use href="#w" x="938.02" y="22.30"/>
<use href="#w" x="908.51" y="90.35"/>
<use href="#w" x="879.00" y="158.40"/>
<use href="#w" x="849.49" y="226.45"/>
<use href="#w" x="819.98" y="294.50"/>
<use href="#w" x="790.47" y="362.55"/>
<use href="#w" x="760.96" y="430.60"/>
<use href="#w" x="731.45" y="498.65"/>
<use href="#w" x="701.94" y="566.70"/>
<use href="#w" x="672.43" y="634.75"/>
<use href="#w" x="642.92" y="702.80"/>
<use href="#w" x="613.41" y="770.85"/>
<use href="#w" x="583.90" y="838.90"/>
<use href="#w" x="554.39" y="906.95"/>
<use href="#w" x="524.88" y="975.00"/>
<use href="#w" x="495.37" y="1043.05"/>
<use href="#w" x="465.86" y="1111.10"/>
<use href="#w" x="436.35" y="1179.15"/>
<use href="#w" x="406.84" y="1247.20"/>
<use href="#w" x="1011.64" y="30.70"/>
<use href="#w" x="982.13" y="98.75"/>
<use href="#w" x="952.62" y="166.80"/>
<use href="#w" x="923.11" y="234.85"/>
<use href="#w" x="893.60" y="302.90"/>
<use href="#w" x="864.09" y="370.95"/>
<use href="#w" x="834.58" y="439.00"/>
<use href="#w" x="805.07" y="507.05"/>
<use href="#w" x="775.56" y="575.10"/>
<use href="#w" x="746.05" y="643.15"/>
<use href="#w" x="716.54" y="711.20"/>
<use href="#w" x="687.03" y="779.25"/>
<use href="#w" x="657.52" y="847.30"/>
<use href="#w" x="628.01" y="915.35"/>
<use href="#w" x="598.50" y="983.40"/>
<use href="#w" x="568.99" y="1051.45"/>
<use href="#w" x="539.48" y="1119.50"/>
<use href="#w" x="509.97" y="1187.55"/>
<use href="#w" x="480.46" y="1255.60"/>
<use href="#w" x="1085.26" y="39.10"/>
<use href="#w" x="1055.75" y="107.15"/>
<use href="#w" x="1026.24" y="175.20"/>
<use href="#w" x="996.73" y="243.25"/>
<use href="#w" x="967.22" y="311.30"/>
<use href="#w" x="937.71" y="379.35"/>
<use href="#w" x="908.20" y="447.40"/>
<use href="#w" x="878.69" y="515.45"/>
<use href="#w" x="849.18" y="583.50"/>
<use href="#w" x="819.67" y="651.55"/>
<use href="#w" x="790.16" y="719.60"/>
<use href="#w" x="760.65" y="787.65"/>
<use href="#w" x="731.14" y="855.70"/>
<use href="#w" x="701.63" y="923.75"/>
<use href="#w" x="672.12" y="991.80"/>
<use href="#w" x="642.61" y="1059.85"/>
<use href="#w" x="613.10" y="1127.90"/>
<use href="#w" x="583.59" y="1195.95"/>
<use href="#w" x="1158.88" y="47.50"/>
<use href="#w" x="1129.37" y="115.55"/>
<use href="#w" x="1099.86" y="183.60"/>
<use href="#w" x="1070.35" y="251.65"/>
<use href="#w" x="1040.84" y="319.70"/>
<use href="#w" x="1011.33" y="387.75"/>
<use href="#w" x="981.82" y="455.80"/>
<use href="#w" x="952.31" y="523.85"/>
<use href="#w" x="922.80" y="591.90"/>
<use href="#w" x="893.29" y="659.95"/>
<use href="#w" x="863.78" y="728.00"/>
<use href="#w" x="834.27" y="796.05"/>
<use href="#w" x="804.76" y="864.10"/>
<use href="#w" x="775.25" y="932.15"/>
<use href="#w" x="745.74" y="1000.20"/>
<use href="#w" x="716.23" y="1068.25"/>
<use href="#w" x="686.72" y="1136.30"/>
<use href="#w" x="657.21" y="1204.35"/>
<use href="#w" x="1232.50" y="55.90"/>
<use href="#w" x="1202.99" y="123.95"/>
<use href="#w" x="1173.48" y="192.00"/>
<use href="#w" x="1143.97" y="260.05"/>
<use href="#w" x="1114.46" y="328.10"/>
<use href="#w" x="1084.95" y="396.15"/>
<use href="#w" x="1055.44" y="464.20"/>
<use href="#w" x="1025.93" y="532.25"/>
<use href="#w" x="996.42" y="600.30"/>
<use href="#w" x="966.91" y="668.35"/>
<use href="#w" x="937.40" y="736.40"/>
<use href="#w" x="907.89" y="804.45"/>
<use href="#w" x="878.38" y="872.50"/>
<use href="#w" x="848.87" y="940.55"/>
<use href="#w" x="819.36" y="1008.60"/>
<use href="#w" x="789.85" y="1076.65"/>
<use href="#w" x="760.34" y="1144.70"/>
<use href="#w" x="730.83" y="1212.75"/>
<use href="#w" x="1335.63" y="-3.75"/>
<use href="#w" x="1306.12" y="64.30"/>
<use href="#w" x="1276.61" y="132.35"/>
<use href="#w" x="1247.10" y="200.40"/>
<use href="#w" x="1217.59" y="268.45"/>
<use href="#w" x="1188.08" y="336.50"/>
<use href="#w" x="1158.57" y="404.55"/>
<use href="#w" x="1129.06" y="472.60"/>
<use href="#w" x="1099.55" y="540.65"/>
<use href="#w" x="1070.04" y="608.70"/>
<use href="#w" x="1040.53" y="676.75"/>
<use href="#w" x="1011.02" y="744.80"/>
<use href="#w" x="981.51" y="812.85"/>
<use href="#w" x="952.00" y="880.90"/>
<use href="#w" x="922.49" y="948.95"/>
<use href="#w" x="892.98" y="1017.00"/>
<use href="#w" x="863.47" y="1085.05"/>
<use href="#w" x="833.96" y="1153.10"/>
<use href="#w" x="804.45" y="1221.15"/>
<use href="#w" x="1409.25" y="4.65"/>
<use href="#w" x="1379.74" y="72.70"/>
<use href="#w" x="1350.23" y="140.75"/>
<use href="#w" x="1320.72" y="208.80"/>
<use href="#w" x="1291.21" y="276.85"/>
<use href="#w" x="1261.70" y="344.90"/>
<use href="#w" x="1232.19" y="412.95"/>
<use href="#w" x="1202.68" y="481.00"/>
<use href="#w" x="1173.17" y="549.05"/>
<use href="#w" x="1143.66" y="617.10"/>
<use href="#w" x="1114.15" y="685.15"/>
<use href="#w" x="1084.64" y="753.20"/>
<use href="#w" x="1055.13" y="821.25"/>
<use href="#w" x="1025.62" y="889.30"/>
<use href="#w" x="996.11" y="957.35"/>
<use href="#w" x="966.60" y="1025.40"/>
<use href="#w" x="937.09" y="1093.45"/>
<use href="#w" x="907.58" y="1161.50"/>
<use href="#w" x="878.07" y="1229.55"/>
<use href="#w" x="1482.87" y="13.05"/>
<use href="#w" x="1453.36" y="81.10"/>
<use href="#w" x="1423.85" y="149.15"/>
<use href="#w" x="1394.34" y="217.20"/>
<use href="#w" x="1364.83" y="285.25"/>
<use href="#w" x="1335.32" y="353.30"/>
<use href="#w" x="1305.81" y="421.35"/>
<use href="#w" x="1276.30" y="489.40"/>
<use href="#w" x="1246.79" y="557.45"/>
<use href="#w" x="1217.28" y="625.50"/>
<use href="#w" x="1187.77" y="693.55"/>
<use href="#w" x="1158.26" y="761.60"/>
<use href="#w" x="1128.75" y="829.65"/>
<use href="#w" x="1099.24" y="897.70"/>
<use href="#w" x="1069.73" y="965.75"/>
<use href="#w" x="1040.22" y="1033.80"/>
<use href="#w" x="1010.71" y="1101.85"/>
<use href="#w" x="981.20" y="1169.90"/>
<use href="#w" x="951.69" y="1237.95"/>
<use href="#w" x="1556.49" y="21.45"/>
<use href="#w" x="1526.98" y="89.50"/>
<use href="#w" x="1497.47" y="157.55"/>
<use href="#w" x="1467.96" y="225.60"/>
<use href="#w" x="1438.45" y="293.65"/>
<use href="#w" x="1408.94" y="361.70"/>
<use href="#w" x="1379.43" y="429.75"/>
<use href="#w" x="1349.92" y="497.80"/>
<use href="#w" x="1320.41" y="565.85"/>
<use href="#w" x="1290.90" y="633.90"/>
<use href="#w" x="1261.39" y="701.95"/>
<use href="#w" x="1231.88" y="770.00"/>
<use href="#w" x="1202.37" y="838.05"/>
<use href="#w" x="1172.86" y="906.10"/>
<use href="#w" x="1143.35" y="974.15"/>
<use href="#w" x="1113.84" y="1042.20"/>
<use href="#w" x="1084.33" y="1110.25"/>
<use href="#w" x="1054.82" y="1178.30"/>
<use href="#w" x="1025.31" y="1246.35"/>
<use href="#w" x="1600.60" y="97.90"/>
<use href="#w" x="1571.09" y="165.95"/>
<use href="#w" x="1541.58" y="234.00"/>
<use href="#w" x="1512.07" y="302.05"/>
<use href="#w" x="1482.56" y="370.10"/>
<use href="#w" x="1453.05" y="438.15"/>
<use href="#w" x="1423.54" y="506.20"/>
<use href="#w" x="1394.03" y="574.25"/>
<use href="#w" x="1364.52" y="642.30"/>
<use href="#w" x="1335.01" y="710.35"/>
<use href="#w" x="1305.50" y="778.40"/>
<use href="#w" x="1275.99" y="846.45"/>
<use href="#w" x="1246.48" y="914.50"/>
<use href="#w" x="1216.97" y="982.55"/>
<use href="#w" x="1187.46" y="1050.60"/>
<use href="#w" x="1157.95" y="1118.65"/>
<use href="#w" x="1128.44" y="1186.70"/>
<use href="#w" x="1098.93" y="1254.75"/>
<use href="#w" x="1585.69" y="310.45"/>
<use href="#w" x="1556.18" y="378.50"/>
<use href="#w" x="1526.67" y="446.55"/>
<use href="#w" x="1497.16" y="514.60"/>
<use href="#w" x="1467.65" y="582.65"/>
<use href="#w" x="1438.14" y="650.70"/>
<use href="#w" x="1408.63" y="718.75"/>
<use href="#w" x="1379.12" y="786.80"/>
<use href="#w" x="1349.61" y="854.85"/>
<use href="#w" x="1320.10" y="922.90"/>
<use href="#w" x="1290.59" y="990.95"/>
<use href="#w" x="1261.08" y="1059.00"/>
<use href="#w" x="1231.57" y="1127.05"/>
<use href="#w" x="1202.06" y="1195.10"/>
<use href="#w" x="1600.29" y="454.95"/>
<use href="#w" x="1570.78" y="523.00"/>
<use href="#w" x="1541.27" y="591.05"/>
<use href="#w" x="1511.76" y="659.10"/>
<use href="#w" x="1482.25" y="727.15"/>
<use href="#w" x="1452.74" y="795.20"/>
<use href="#w" x="1423.23" y="863.25"/>
<use href="#w" x="1393.72" y="931.30"/>
<use href="#w" x="1364.21" y="999.35"/>
<use href="#w" x="1334.70" y="1067.40"/>
<use href="#w" x="1305.19" y="1135.45"/>
<use href="#w" x="1275.68" y="1203.50"/>
<use href="#w" x="1585.38" y="667.50"/>
<use href="#w" x="1555.87" y="735.55"/>
<use href="#w" x="1526.36" y="803.60"/>
<use href="#w" x="1496.85" y="871.65"/>
<use href="#w" x="1467.34" y="939.70"/>
<use href="#w" x="1437.83" y="1007.75"/>
<use href="#w" x="1408.32" y="1075.80"/>
<use href="#w" x="1378.81" y="1143.85"/>
<use href="#w" x="1349.30" y="1211.90"/>
<use href="#w" x="1599.98" y="812.00"/>
<use href="#w" x="1570.47" y="880.05"/>
<use href="#w" x="1540.96" y="948.10"/>
<use href="#w" x="1511.45" y="1016.15"/>
<use href="#w" x="1481.94" y="1084.20"/>
<use href="#w" x="1452.43" y="1152.25"/>
<use href="#w" x="1422.92" y="1220.30"/>
<use href="#w" x="1585.07" y="1024.55"/>
<use href="#w" x="1555.56" y="1092.60"/>
<use href="#w" x="1526.05" y="1160.65"/>
<use href="#w" x="1496.54" y="1228.70"/>
<use href="#w" x="1599.67" y="1169.05"/>
<use href="#w" x="1570.16" y="1237.10"/></g>
</svg>
</body></html>
